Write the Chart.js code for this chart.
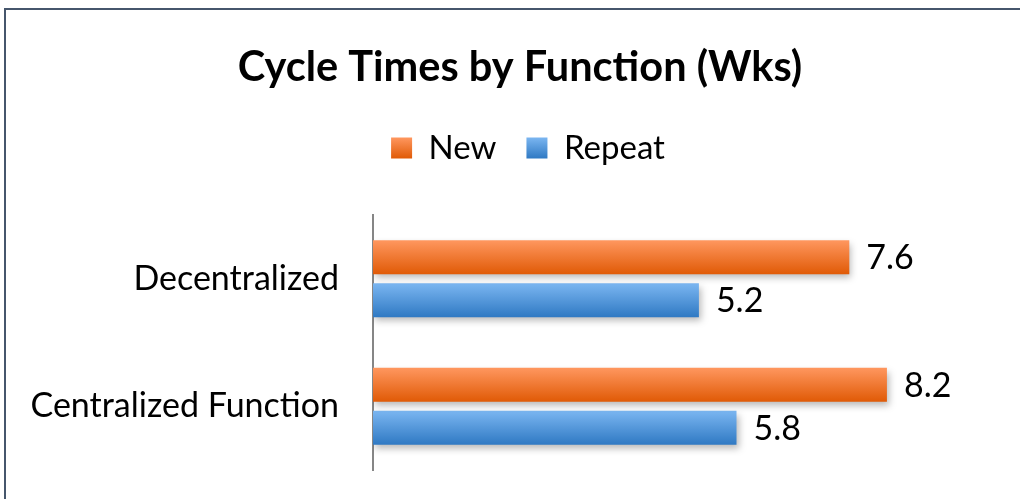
<!DOCTYPE html>
<html>
<head>
<meta charset="utf-8">
<script src="https://cdn.jsdelivr.net/npm/chart.js@4.4.1/dist/chart.umd.min.js"></script>
<style>
  html, body { margin: 0; padding: 0; background: #fff; }
  #wrap { position: relative; width: 1020px; height: 499px; }
  #frame { position: absolute; left: 4px; top: 8px; right: -4px; bottom: -4px;
           border-top: 2px solid #46566c; border-left: 2px solid #46566c; }
  canvas { position: absolute; left: 0; top: 0; }
</style>
</head>
<body>
<div id="wrap">
  <div id="frame"></div>
  <canvas id="chartCiclos" width="1020" height="499"></canvas>
</div>
<script>
const categorias = ['Decentralized', 'Centralized Function'];
const valoresNew = [7.6, 8.2];
const valoresRepeat = [5.2, 5.8];
const nombresSeries = ['New', 'Repeat'];

const FUENTE = 'Lato, "Liberation Sans", sans-serif';
const IZQ = 10; // padding izquierdo del layout

// colores de degradado (arriba, abajo) para cada serie
const degradados = [
    ['#ff975f', '#e05a06'],
    ['#7bb6f1', '#2f79c3']
];

const pluginBarras = {
    id: 'barrasDegradado',
    afterLayout(chart) {
        // título y leyenda un poco a la derecha, como en el original
        const mover = (b, d) => { if (b) { b.left += d; b.right += d; } };
        mover(chart.titleBlock, 12);
        mover(chart.legend, 20);
    },
    beforeDatasetsDraw(chart) {
        const ctx = chart.ctx;
        chart.data.datasets.forEach((ds, i) => {
            const meta = chart.getDatasetMeta(i);
            meta.data.forEach(el => {
                const top = el.y - el.height / 2;
                const g = ctx.createLinearGradient(0, top, 0, top + el.height);
                g.addColorStop(0, degradados[i][0]);
                g.addColorStop(1, degradados[i][1]);
                try { el.options.backgroundColor = g; } catch (e) { /* opciones congeladas */ }
            });
        });
        ctx.save();
        ctx.shadowColor = 'rgba(0,0,0,0.28)';
        ctx.shadowBlur = 7;
        ctx.shadowOffsetX = 2;
        ctx.shadowOffsetY = 4;
    },
    afterDatasetsDraw(chart) {
        const ctx = chart.ctx;
        ctx.restore();
        ctx.save();
        ctx.fillStyle = '#000';
        ctx.font = '34px ' + FUENTE;
        ctx.textAlign = 'left';
        ctx.textBaseline = 'middle';
        chart.data.datasets.forEach((ds, i) => {
            const meta = chart.getDatasetMeta(i);
            meta.data.forEach((el, j) => {
                ctx.fillText(ds.data[j].toFixed(1), el.x + 17, el.y + 1);
            });
        });
        ctx.restore();
    },
    beforeDraw(chart) {
        // degradado también en los cuadros de la leyenda
        const lg = chart.legend;
        if (!lg || !lg.legendHitBoxes) return;
        lg.legendItems.forEach((it, i) => {
            const h = lg.legendHitBoxes[i];
            const top = h.top + (h.height - 21) / 2;
            const g = chart.ctx.createLinearGradient(0, top, 0, top + 21);
            g.addColorStop(0, degradados[i][0]);
            g.addColorStop(1, degradados[i][1]);
            it.fillStyle = g;
        });
    }
};

const ctx = document.getElementById('chartCiclos').getContext('2d');
new Chart(ctx, {
    type: 'bar',
    data: {
        labels: categorias,
        datasets: [
            {
                label: nombresSeries[0],
                data: valoresNew,
                backgroundColor: () => '#f57a30',
                categoryPercentage: 0.675,
                barPercentage: 0.79
            },
            {
                label: nombresSeries[1],
                data: valoresRepeat,
                backgroundColor: () => '#4f93dc',
                categoryPercentage: 0.675,
                barPercentage: 0.79
            }
        ]
    },
    plugins: [pluginBarras],
    options: {
        indexAxis: 'y',
        responsive: false,
        animation: false,
        layout: { padding: { left: IZQ, right: 14, top: 0, bottom: 29 } },
        scales: {
            x: {
                position: 'top',
                min: 0,
                max: 10.1,
                grid: { display: false },
                border: { display: false },
                ticks: { display: false },
                afterFit(scale) { scale.height = 40.5; }
            },
            y: {
                grid: { display: false },
                border: { display: true, color: '#868686', width: 2 },
                ticks: { color: '#000', padding: 26, font: { family: FUENTE, size: 34 } },
                afterFit(scale) {
                    scale.width = 373 - IZQ;
                    scale.paddingTop = 0;
                    scale.paddingBottom = 0;
                }
            }
        },
        plugins: {
            title: {
                display: true,
                text: 'Cycle Times by Function (Wks)',
                color: '#000',
                font: { family: FUENTE, size: 41.5, weight: 'bold' },
                padding: { top: 43, bottom: 8.7 }
            },
            legend: {
                labels: {
                    color: '#000',
                    font: { family: FUENTE, size: 33 },
                    boxWidth: 21,
                    boxHeight: 21,
                    padding: 30
                }
            },
            tooltip: { enabled: false }
        }
    }
});
</script>
</body>
</html>
